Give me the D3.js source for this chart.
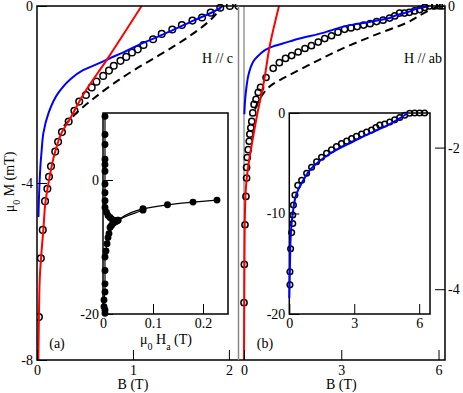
<!DOCTYPE html>
<html>
<head>
<meta charset="utf-8">
<script src="https://cdn.jsdelivr.net/npm/d3@7"></script>
<style>
  body { margin: 0; background: #fff; }
</style>
</head>
<body>
<svg id="chart" width="463" height="393"></svg>
<script>
// ---- data ----
// (a) H // c : B (T) vs mu0 M (mT)
const cB = [0.02, 0.04, 0.06, 0.084, 0.108, 0.125, 0.146, 0.19, 0.22, 0.26, 0.33, 0.39, 0.44, 0.51, 0.57, 0.62, 0.69, 0.75, 0.80, 0.87, 0.93, 0.99, 1.05, 1.11, 1.21, 1.30, 1.41, 1.51, 1.62, 1.72, 1.81, 1.91, 2.01, 2.10];
const cM = [-7.03, -5.7, -5.06, -4.41, -4.13, -3.86, -3.62, -3.29, -3.07, -2.85, -2.61, -2.37, -2.16, -2.01, -1.84, -1.71, -1.58, -1.46, -1.35, -1.24, -1.15, -1.05, -0.98, -0.88, -0.75, -0.63, -0.53, -0.43, -0.33, -0.26, -0.15, -0.04, 0, 0];
const cRedB = [0.014, 0.02, 0.03, 0.042, 0.066, 0.09, 0.12, 0.19, 0.26, 0.33, 0.48, 0.72, 1.09];
const cRedM = [-8, -7.0, -6.1, -5.7, -5.06, -4.4, -4.0, -3.29, -2.85, -2.6, -2.01, -1.24, 0];
const cBlueB = [0.015, 0.025, 0.04, 0.049, 0.066, 0.12, 0.22, 0.34, 0.48, 0.66, 0.76, 0.90, 1.04, 1.22, 1.42, 1.63, 1.84, 1.93];
const cBlueM = [-4.77, -4.08, -3.48, -3.25, -2.88, -2.42, -1.97, -1.67, -1.45, -1.28, -1.18, -1.05, -0.90, -0.73, -0.54, -0.33, -0.13, -0.015];
const cDashB = [0.28, 0.36, 0.41, 0.59, 0.80, 1.01, 1.22, 1.42, 1.63, 1.79, 1.91];
const cDashM = [-2.71, -2.53, -2.42, -2.09, -1.75, -1.45, -1.18, -0.92, -0.62, -0.35, -0.075];

// inset (a): mu0 Ha (T) vs mu0 M (mT), two sweeps
const ia1H = [0.004, 0.004, 0.004, 0.004, 0.004, 0.004, 0.004, 0.004, 0.004, 0.004, 0.007, 0.010, 0.014, 0.017, 0.021, 0.024, 0.028, 0.030, 0.080, 0.129, 0.180, 0.228];
const ia1M = [9.5, 6.8, 5.3, 3.1, 2.3, 1.3, -0.6, -1.9, -3.1, -4.1, -4.8, -5.3, -5.6, -5.8, -6.0, -6.1, -6.1, -6.0, -4.3, -3.7, -3.3, -3.0];
const ia2H = [0.004, 0.004, 0.002, 0.002, 0.004, 0.004, 0.004, 0.004, 0.006, 0.008, 0.010, 0.012, 0.014, 0.017, 0.020, 0.023, 0.026, 0.030, 0.080];
const ia2M = [-19.9, -19.4, -18.9, -17.9, -16.7, -15.5, -13.5, -11.5, -10.6, -9.5, -8.6, -8.0, -7.1, -6.8, -6.5, -6.3, -6.2, -6.0, -4.5];

// (b) H // ab
const dB = [0.0, 0.01, 0.03, 0.06, 0.08, 0.08, 0.10, 0.13, 0.16, 0.18, 0.21, 0.24, 0.27, 0.31, 0.37, 0.44, 0.51, 0.68, 0.90, 1.09, 1.28, 1.47, 1.67, 1.88, 2.08, 2.29, 2.49, 2.70, 2.90, 3.10, 3.30, 3.49, 3.69, 3.89, 4.09, 4.29, 4.49, 4.65, 4.80, 4.95, 5.10, 5.26, 5.42, 5.57, 5.72, 5.88, 6.03, 6.13];
const dM = [-4.19, -3.65, -3.09, -2.69, -2.43, -2.28, -2.14, -2.03, -1.91, -1.81, -1.72, -1.63, -1.51, -1.39, -1.32, -1.22, -1.15, -1.01, -0.88, -0.80, -0.74, -0.70, -0.65, -0.60, -0.56, -0.51, -0.46, -0.42, -0.37, -0.33, -0.31, -0.29, -0.27, -0.25, -0.22, -0.20, -0.17, -0.14, -0.10, -0.10, -0.09, -0.07, -0.05, -0.02, 0, 0, 0, 0];
const dRedB = [0.0, 0.007, 0.015, 0.03, 0.07, 0.15, 0.27, 0.42, 0.59, 0.80, 1.08];
const dRedM = [-5.0, -4.2, -3.5, -2.9, -2.5, -2.2, -1.88, -1.5, -1.13, -0.55, 0];
const dBlueB = [0.01, 0.03, 0.08, 0.15, 0.34, 0.49, 0.70, 0.90, 1.42, 1.62, 2.44, 2.65, 3.26, 3.67, 4.49, 4.70, 5.10, 5.31, 5.72];
const dBlueM = [-1.53, -1.35, -1.13, -0.95, -0.75, -0.68, -0.61, -0.57, -0.50, -0.47, -0.38, -0.35, -0.27, -0.24, -0.17, -0.13, -0.08, -0.04, 0];
const dDashB = [0.34, 0.50, 0.90, 1.21, 1.93, 2.95, 3.98, 5.0, 5.72, 6.03];
const dDashM = [-1.46, -1.30, -1.10, -1.02, -0.85, -0.62, -0.42, -0.24, -0.06, 0];

// inset (b)
const ibB = [0.03, 0.03, 0.06, 0.11, 0.16, 0.16, 0.19, 0.26, 0.39, 0.57, 0.80, 1.03, 1.26, 1.49, 1.72, 1.95, 2.18, 2.41, 2.65, 2.88, 3.10, 3.34, 3.57, 3.80, 4.00, 4.18, 4.41, 4.64, 4.87, 5.10, 5.33, 5.56, 5.79, 6.02, 6.25];
const ibM = [-17.1, -15.8, -13.5, -11.9, -11.0, -10.15, -9.15, -8.16, -7.2, -6.7, -6.0, -5.4, -4.85, -4.4, -4.0, -3.65, -3.35, -3.05, -2.8, -2.55, -2.33, -2.1, -1.9, -1.7, -1.45, -1.2, -1.1, -0.9, -0.68, -0.45, -0.22, -0.03, 0, 0, 0];
const ibBlueB = [0.0, 0.03, 0.06, 0.16, 0.34, 0.65, 1.03, 1.57, 2.18, 2.95, 3.72, 4.49, 5.10, 5.48];
const ibBlueM = [-18.4, -15.3, -12.5, -10.0, -8.0, -6.67, -5.5, -4.5, -3.68, -2.85, -2.02, -1.29, -0.53, 0];

// ---- drawing ----
const FONT = "'Liberation Serif', 'DejaVu Serif', serif";
const svg = d3.select("#chart");
const zip = (xs, ys) => xs.map((v, i) => [v, ys[i]]);

const xA = d3.scaleLinear().domain([0, 2.1]).range([37, 238.5]);
const yA = d3.scaleLinear().domain([-8, 0]).range([360, 6]);
const xB = d3.scaleLinear().domain([-0.17, 6.2]).range([238.5, 445]);
const yB = d3.scaleLinear().domain([-5, 0]).range([360, 6]);
const xAi = d3.scaleLinear().domain([0, 0.25]).range([103, 228]);
const yAi = d3.scaleLinear().domain([-20, 10]).range([314, 113]);
const xBi = d3.scaleLinear().domain([0, 6.5]).range([289.3, 430]);
const yBi = d3.scaleLinear().domain([-20, 0]).range([314, 113]);

const fmt = d => String(d);

// ticks pointing inward; minor ticks drawn with a second axis
function ticks(gen, scale, major, minor, pad, at) {
  const g = svg.append("g").attr("transform", at);
  g.call(gen(scale).tickValues(minor).tickSizeInner(-5).tickSizeOuter(0).tickFormat(""));
  g.call(gen(scale).tickValues(major).tickSizeInner(-10).tickSizeOuter(0).tickPadding(pad).tickFormat(fmt));
  g.attr("font-family", FONT);
  g.selectAll(".domain").remove();
  g.selectAll("text").attr("font-family", FONT).attr("font-size", 14).attr("fill", "#000");
  g.selectAll("line").attr("stroke", "#000");
  return g;
}

function clip(id, x0, y0, x1, y1) {
  svg.append("clipPath").attr("id", id).append("rect")
    .attr("x", x0).attr("y", y0).attr("width", x1 - x0).attr("height", y1 - y0);
}
clip("ca", 37, 4, 238.5, 360);
clip("cb", 238.5, 4, 445, 360);

function line(g, pts, x, y, color, dash, w) {
  g.append("path").datum(pts)
    .attr("fill", "none").attr("stroke", color).attr("stroke-width", w || 2)
    .attr("stroke-dasharray", dash || null)
    .attr("d", d3.line().x(d => x(d[0])).y(d => y(d[1])).curve(d3.curveMonotoneY));
}
function circles(g, pts, x, y, r, filled) {
  g.selectAll(null).data(pts).enter().append("circle")
    .attr("cx", d => x(d[0])).attr("cy", d => y(d[1])).attr("r", r)
    .attr("fill", filled ? "#000" : "none").attr("stroke", "#000").attr("stroke-width", 1.5);
}

// panel (a)
const ga = svg.append("g").attr("clip-path", "url(#ca)");
line(ga, zip(cDashB, cDashM), xA, yA, "#000", "8,5");
circles(ga, zip(cB, cM), xA, yA, 3.3, false);
line(ga, zip(cBlueB, cBlueM), xA, yA, "#0000ff");
line(ga, zip(cRedB, cRedM), xA, yA, "#ff0000");

// panel (b)
const gb = svg.append("g").attr("clip-path", "url(#cb)");
gb.append("line").attr("x1", xB(0)).attr("x2", xB(0)).attr("y1", 6).attr("y2", 360)
  .attr("stroke", "#999").attr("stroke-width", 1.5);
line(gb, zip(dDashB, dDashM), xB, yB, "#000", "8,5");
circles(gb, zip(dB, dM), xB, yB, 3.1, false);
line(gb, zip(dBlueB, dBlueM), xB, yB, "#0000ff");
line(gb, zip(dRedB, dRedM), xB, yB, "#ff0000");

// frames
const fr = svg.append("g").attr("stroke", "#000").attr("stroke-width", 1.5).attr("fill", "none");
fr.append("path").attr("d", `M${xA(0)},${yA(0)}H${xB(6.2)}V${yA(-8)}H${xA(0)}Z`);
fr.append("line").attr("x1", xA(2.1)).attr("x2", xA(2.1)).attr("y1", yA(0)).attr("y2", yA(-8)).attr("stroke", "#888");

ticks(d3.axisBottom, xA, [0, 1, 2], [0.5, 1.5], 5, "translate(0,360)");
ticks(d3.axisLeft, yA, [0, -4, -8], [-2, -6], 4, "translate(37,0)");
ticks(d3.axisBottom, xB, [0, 3, 6], [1.5, 4.5], 5, "translate(0,360)");
ticks(d3.axisRight, yB, [0, -2, -4], [-1, -3, -5], 3, "translate(445,0)");

// inset (a)
svg.append("rect").attr("x", 103).attr("y", 113).attr("width", 125).attr("height", 201)
  .attr("fill", "#fff").attr("stroke", "#000").attr("stroke-width", 1.5);
const gia = svg.append("g");
line(gia, zip(ia2H, ia2M), xAi, yAi, "#000", null, 1.2);
line(gia, zip(ia1H, ia1M), xAi, yAi, "#000", null, 1.2);
circles(gia, zip(ia1H, ia1M), xAi, yAi, 2.7, true);
circles(gia, zip(ia2H, ia2M), xAi, yAi, 2.7, true);
ticks(d3.axisBottom, xAi, [0, 0.1, 0.2], [0.05, 0.15], 4, "translate(0,314)");
ticks(d3.axisLeft, yAi, [0, -20], [10, -10], 4, "translate(103,0)");

// inset (b)
svg.append("rect").attr("x", 289.3).attr("y", 113).attr("width", 140.7).attr("height", 201)
  .attr("fill", "#fff").attr("stroke", "#000").attr("stroke-width", 1.5);
const gib = svg.append("g");
circles(gib, zip(ibB, ibM), xBi, yBi, 2.8, false);
line(gib, zip(ibBlueB, ibBlueM), xBi, yBi, "#0000ff");
ticks(d3.axisBottom, xBi, [0, 3, 6], [1.5, 4.5], 4, "translate(0,314)");
ticks(d3.axisLeft, yBi, [0, -10, -20], [-5, -15], 4, "translate(289.3,0)");

// labels
function label(x, y, anchor, parts, rot) {
  const t = svg.append("text").attr("x", x).attr("y", y).attr("text-anchor", anchor)
    .attr("font-family", FONT).attr("font-size", 14).attr("fill", "#000");
  if (rot) t.attr("transform", `rotate(-90,${x},${y})`);
  parts.forEach(p => {
    const s = t.append("tspan").text(p[0]);
    if (p[1]) s.attr("baseline-shift", "sub").attr("font-size", 10);
  });
}
label(xA(1), 389, "middle", [["B (T)"]]);
label(xB(3), 389, "middle", [["B (T)"]]);
label(14, 182, "middle", [["\u03bc"], ["0", true], [" M (mT)"]], true);
label(166, 344, "middle", [["\u03bc"], ["0", true], [" H"], ["a", true], [" (T)"]]);
label(233, 63, "end", [["H // c"]]);
label(442, 63, "end", [["H // ab"]]);
label(57, 348, "middle", [["(a)"]]);
label(265, 348, "middle", [["(b)"]]);
</script>
</body>
</html>
